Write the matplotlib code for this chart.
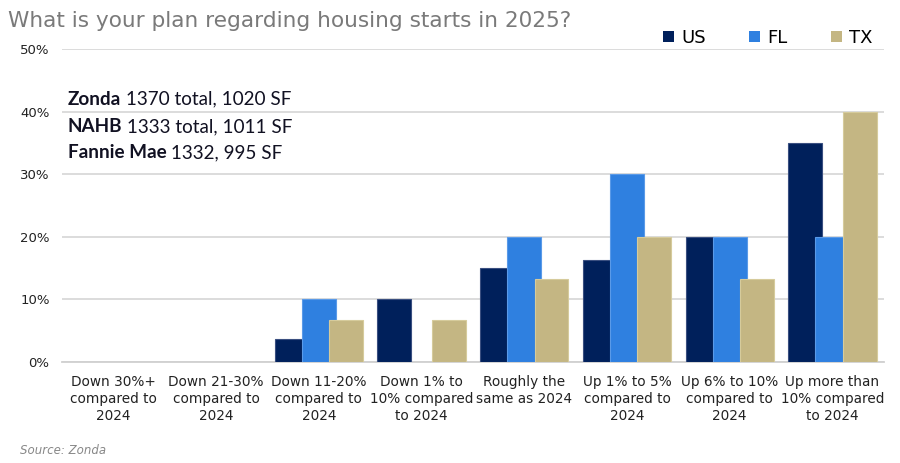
import numpy as np
import matplotlib.pyplot as plt
from matplotlib.ticker import FuncFormatter

# answers and share of responses (%)
categories = ["Down 30%+\ncompared to\n2024", "Down 21-30%\ncompared to\n2024",
              "Down 11-20%\ncompared to\n2024", "Down 1% to\n10% compared\nto 2024",
              "Roughly the\nsame as 2024", "Up 1% to 5%\ncompared to\n2024",
              "Up 6% to 10%\ncompared to\n2024", "Up more than\n10% compared\nto 2024"]
us = [0, 0, 3.7, 10, 15, 16.3, 20, 35]
fl = [0, 0, 10, 0, 20, 30, 20, 20]
tx = [0, 0, 6.67, 6.67, 13.3, 20, 13.3, 40]
series = ["US", "FL", "TX"]
colors = ["#00205b", "#2f80e0", "#c4b683"]
edges = ["#3a4f80", "#5a9ae8", "#d6cb9c"]

fig = plt.figure(figsize=(9, 4.63), dpi=100)
ax = fig.add_axes([0.069, 0.218, 0.913, 0.676])

x = np.arange(len(categories))
w = 0.33
step = 0.265
for i, (name, vals) in enumerate(zip(series, [us, fl, tx])):
    vals = np.array(vals)
    lw = np.where(vals > 0, 0.8, 0)  # no edge on empty bars
    ax.bar(x + (i - 1) * step, vals, w, color=colors[i], edgecolor=edges[i],
           linewidth=lw, label=name, zorder=3 + i)

ax.set_xlim(-0.5, len(categories) - 0.5)
ax.set_ylim(0, 50)
ax.set_yticks(range(0, 51, 10))
ax.yaxis.set_major_formatter(FuncFormatter(lambda v, p: f"{v:.0f}%"))
ax.grid(axis="y", color="#d9d9d9", linewidth=1.3, zorder=0)
ax.set_axisbelow(True)
for s in ["top", "right", "left"]:
    ax.spines[s].set_visible(False)
ax.spines["bottom"].set_color("#d0d0d0")
ax.spines["bottom"].set_linewidth(1.3)
ax.tick_params(axis="both", length=0, labelsize=9.5, colors="#222222")
ax.tick_params(axis="y", pad=9)
ax.set_xticks(x)
ax.set_xticklabels(categories, fontsize=9.8, linespacing=1.3)
ax.tick_params(axis="x", pad=9)

fig.text(0.009, 0.955, "What is your plan regarding housing starts in 2025?",
         fontsize=15.6, color="#7a7a7a", va="center")

leg = fig.legend(loc="center", bbox_to_anchor=(0.853, 0.918), ncol=3, frameon=False,
                 fontsize=13, handlelength=0.6, handleheight=0.6, handletextpad=0.4,
                 columnspacing=2.4)

# source note for housing starts forecasts
notes = [("Zonda", " 1370 total, 1020 SF"), ("NAHB", " 1333 total, 1011 SF"),
         ("Fannie Mae", " 1332, 995 SF")]
ys = [0.774, 0.715, 0.658]
for (b, rest), yy in zip(notes, ys):
    t = fig.text(0.075, yy, b, fontsize=13.6, fontweight="bold", color="#111122",
                 family="Lato", va="baseline")
    fig.canvas.draw()
    bb = t.get_window_extent()
    fig.text(bb.x1 / fig.bbox.width, yy, rest, fontsize=13.6, color="#111122",
             family="Lato", va="baseline")

fig.text(0.022, 0.026, "Source: Zonda", fontsize=8.5, color="#888888",
         style="italic", va="center")

fig.savefig("out.png", dpi=100)
